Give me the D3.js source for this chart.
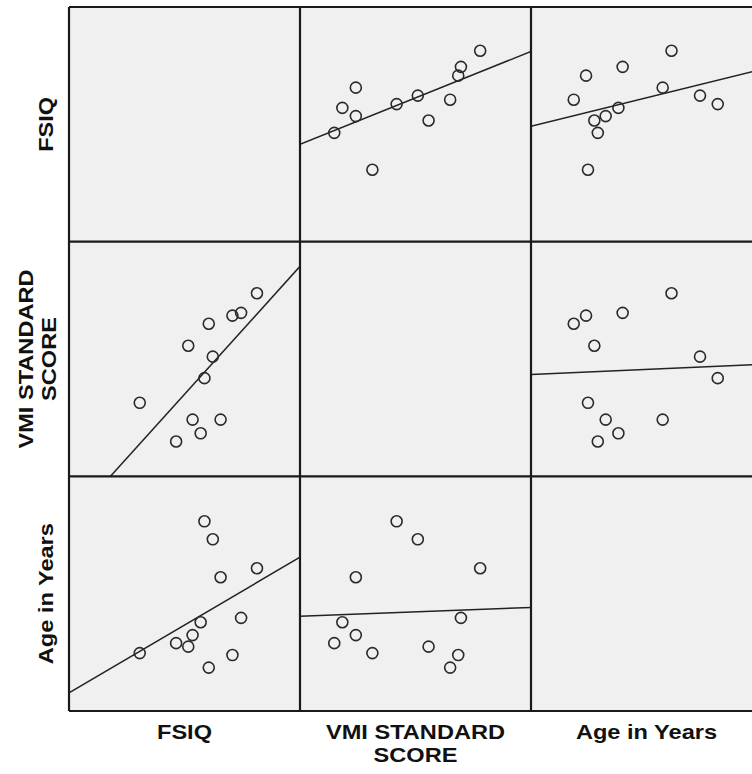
<!DOCTYPE html>
<html>
<head>
<meta charset="utf-8">
<script src="https://cdn.jsdelivr.net/npm/d3@7"></script>
<style>
  body { margin: 0; background: #fff; overflow: hidden; }
  .varLabel { font-family: "Liberation Sans", Arial, sans-serif; font-weight: bold; font-size: 20px; fill: #111; }
</style>
</head>
<body>
<div id="matrix"></div>
<script>
// Data (one entry per case)
var fsiq = [115.1, 109.6, 106.6, 102.5, 99.8, 98.4, 96.9, 95.6, 92.8, 91.3, 87.1, 74.5];
var vmi  = [106.8, 101.8, 101.1, 74.5, 90.6, 99.0, 85.1, 71.0, 74.5, 93.4, 68.9, 78.8];
var age  = [11.3, 8.76, 6.86, 10.84, 12.78, 6.22, 13.7, 8.54, 7.88, 7.29, 7.47, 6.96];

// Variables in matrix order
var varNames = ["FSIQ", "VMI STANDARD SCORE", "Age in Years"];
var varLines = [["FSIQ"], ["VMI STANDARD", "SCORE"], ["Age in Years"]];
var varValues = [fsiq, vmi, age];
var varDomains = [[50, 130], [60, 120], [4, 16]];

// Set up chart
var svgWidth = 752;
var svgHeight = 774;
var marginLeft = 69, marginTop = 7;
var cellW = 231, cellH = 704 / 3;
var n = varNames.length;

var svg = d3.select("#matrix")
  .append("svg")
  .attr("width", svgWidth)
  .attr("height", svgHeight);

// Scales per variable, as x (column) and y (row)
var xScales = varDomains.map(function(dom, j) {
  return d3.scaleLinear().domain(dom).range([marginLeft + j * cellW, marginLeft + (j + 1) * cellW]);
});
var yScales = varDomains.map(function(dom, i) {
  return d3.scaleLinear().domain(dom).range([marginTop + (i + 1) * cellH, marginTop + i * cellH]);
});

// least squares fit
function fit(xs, ys) {
  var mx = d3.mean(xs), my = d3.mean(ys);
  var sxy = d3.sum(xs, (d, k) => (d - mx) * (ys[k] - my));
  var sxx = d3.sum(xs, d => (d - mx) * (d - mx));
  var b = sxy / sxx;
  return { a: my - b * mx, b: b };
}

var defs = svg.append("defs");

for (var i = 0; i < n; i++) {
  for (var j = 0; j < n; j++) {
    var x = xScales[j], y = yScales[i];
    var x0 = marginLeft + j * cellW, y0 = marginTop + i * cellH;

    defs.append("clipPath")
      .attr("id", "clip" + i + j)
      .append("rect")
      .attr("x", x0).attr("y", y0)
      .attr("width", cellW).attr("height", cellH);

    var cell = svg.append("g")
      .attr("clip-path", "url(#clip" + i + j + ")");

    cell.append("rect")
      .attr("x", x0).attr("y", y0)
      .attr("width", cellW).attr("height", cellH)
      .attr("fill", "#f0f0f0");

    if (i === j) continue;

    var xs = varValues[j], ys = varValues[i];
    var f = fit(xs, ys);
    var dom = x.domain();

    cell.append("line")
      .attr("x1", x(dom[0])).attr("y1", y(f.a + f.b * dom[0]))
      .attr("x2", x(dom[1])).attr("y2", y(f.a + f.b * dom[1]))
      .attr("stroke", "#222")
      .attr("stroke-width", 1.5);

    cell.selectAll("circle")
      .data(d3.range(xs.length))
      .enter()
      .append("circle")
      .attr("cx", k => x(xs[k]))
      .attr("cy", k => y(ys[k]))
      .attr("r", 5.5)
      .attr("fill", "none")
      .attr("stroke", "#2a2a2a")
      .attr("stroke-width", 1.6);
  }
}

// Grid lines between cells and outer frame
for (var k = 0; k <= n; k++) {
  svg.append("line")
    .attr("x1", marginLeft + k * cellW).attr("x2", marginLeft + k * cellW)
    .attr("y1", marginTop).attr("y2", marginTop + n * cellH)
    .attr("stroke", "#1a1a1a").attr("stroke-width", 2.2);
  svg.append("line")
    .attr("x1", marginLeft).attr("x2", marginLeft + n * cellW)
    .attr("y1", marginTop + k * cellH).attr("y2", marginTop + k * cellH)
    .attr("stroke", "#1a1a1a").attr("stroke-width", 2.2);
}

// Bottom labels
varLines.forEach(function(lines, j) {
  var g = svg.append("g")
    .attr("transform", `translate(${marginLeft + (j + 0.5) * cellW}, 739) scale(1.18, 1)`);
  lines.forEach(function(t, l) {
    g.append("text")
      .attr("class", "varLabel")
      .attr("text-anchor", "middle")
      .attr("y", l * 23)
      .text(t);
  });
});

// Left labels
varLines.forEach(function(lines, i) {
  var bx = lines.length > 1 ? 33 : 53;
  var g = svg.append("g")
    .attr("transform", `translate(${bx}, ${marginTop + (i + 0.5) * cellH}) rotate(-90) scale(1.18, 1)`);
  lines.forEach(function(t, l) {
    g.append("text")
      .attr("class", "varLabel")
      .attr("text-anchor", "middle")
      .attr("y", l * 23)
      .text(t);
  });
});
</script>
</body>
</html>
